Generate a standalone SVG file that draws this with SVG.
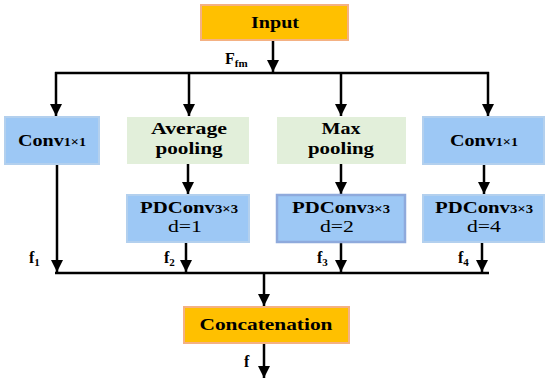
<svg xmlns="http://www.w3.org/2000/svg" width="550" height="386" viewBox="0 0 550 386">
<style>
.ln{stroke:#000;stroke-width:2.5;fill:none}
.ar{stroke:#000;stroke-width:2.5;fill:none;marker-end:url(#ah)}
.or{fill:#FFC000;stroke:#F4B183;stroke-width:2}
.bl{fill:#9DC8F5;stroke:#B3D0EE;stroke-width:2}
.bl2{fill:#9DC8F5;stroke:#8FAADC;stroke-width:2.5}
.gr{fill:#E2EFDA;stroke:none}
.t{font-weight:bold;font-size:17px;fill:#000;text-anchor:middle}
.s{font-size:12px}
.r{font-size:17px;fill:#000;text-anchor:middle}
.lb{font-weight:bold;font-size:16px;fill:#000}
.ls{font-size:11px}
</style>
<defs>
<marker id="ah" markerUnits="userSpaceOnUse" markerWidth="14" markerHeight="14" viewBox="0 0 14 14" refX="12" refY="7" orient="auto">
<path d="M0,1 L12,7 L0,13 Z" fill="#000"/>
</marker>
</defs>
<g font-family="Liberation Serif, DejaVu Serif, serif">
<g id="connectors">
<line class="ar" x1="273" y1="40" x2="273" y2="72"/>
<line class="ln" x1="55" y1="73" x2="489" y2="73"/>
<line class="ar" x1="56" y1="72" x2="56" y2="116"/>
<line class="ar" x1="189" y1="72" x2="189" y2="116"/>
<line class="ar" x1="341" y1="72" x2="341" y2="116"/>
<line class="ar" x1="488" y1="72" x2="488" y2="116"/>
<line class="ar" x1="188" y1="164" x2="188" y2="194"/>
<line class="ar" x1="341" y1="164" x2="341" y2="194"/>
<line class="ar" x1="484" y1="164" x2="484" y2="194"/>
<line class="ar" x1="57" y1="164" x2="57" y2="272"/>
<line class="ar" x1="186" y1="242" x2="186" y2="272"/>
<line class="ar" x1="341" y1="242" x2="341" y2="272"/>
<line class="ar" x1="482" y1="242" x2="482" y2="272"/>
<line class="ln" x1="55" y1="273" x2="489" y2="273"/>
<line class="ar" x1="264" y1="272" x2="264" y2="306"/>
<line class="ar" x1="264" y1="343" x2="264" y2="378"/>
<text class="lb" x="225" y="64">F<tspan class="ls" dy="3">fm</tspan></text>
<text class="lb" x="29" y="263">f<tspan class="ls" dy="3">1</tspan></text>
<text class="lb" x="164" y="263">f<tspan class="ls" dy="3">2</tspan></text>
<text class="lb" x="317" y="263">f<tspan class="ls" dy="3">3</tspan></text>
<text class="lb" x="458" y="263">f<tspan class="ls" dy="3">4</tspan></text>
<text class="lb" x="244" y="367">f</text>
</g>
<g id="input"><rect class="or" x="201" y="5" width="147" height="35"/><text class="t" x="275" y="28" textLength="48" lengthAdjust="spacingAndGlyphs">Input</text></g>
<g id="conv1"><rect class="bl" x="5" y="117" width="94" height="47"/><text class="t" x="52" y="146" textLength="68" lengthAdjust="spacingAndGlyphs">Conv<tspan class="s">1×1</tspan></text></g>
<g id="avgpool"><rect class="gr" x="127" y="117" width="122" height="47"/><text class="t" x="189" y="134" textLength="76" lengthAdjust="spacingAndGlyphs">Average</text><text class="t" x="189" y="154" textLength="67" lengthAdjust="spacingAndGlyphs">pooling</text></g>
<g id="maxpool"><rect class="gr" x="277" y="117" width="129" height="47"/><text class="t" x="341" y="134" textLength="39" lengthAdjust="spacingAndGlyphs">Max</text><text class="t" x="341" y="154" textLength="66" lengthAdjust="spacingAndGlyphs">pooling</text></g>
<g id="conv4"><rect class="bl" x="423" y="117" width="121" height="47"/><text class="t" x="484" y="146" textLength="68" lengthAdjust="spacingAndGlyphs">Conv<tspan class="s">1×1</tspan></text></g>
<g id="pdconv1"><rect class="bl" x="127" y="195" width="122" height="47"/><text class="t" x="189" y="213" textLength="98" lengthAdjust="spacingAndGlyphs">PDConv<tspan class="s">3×3</tspan></text><text class="r" x="185" y="232" textLength="34" lengthAdjust="spacingAndGlyphs">d=1</text></g>
<g id="pdconv2"><rect class="bl2" x="277" y="195" width="128" height="47"/><text class="t" x="341" y="213" textLength="98" lengthAdjust="spacingAndGlyphs">PDConv<tspan class="s">3×3</tspan></text><text class="r" x="337" y="232" textLength="34" lengthAdjust="spacingAndGlyphs">d=2</text></g>
<g id="pdconv4"><rect class="bl" x="423" y="195" width="121" height="47"/><text class="t" x="484" y="213" textLength="98" lengthAdjust="spacingAndGlyphs">PDConv<tspan class="s">3×3</tspan></text><text class="r" x="484" y="232" textLength="34" lengthAdjust="spacingAndGlyphs">d=4</text></g>
<g id="concat"><rect class="or" x="184" y="307" width="165" height="36"/><text class="t" x="266" y="330" textLength="133" lengthAdjust="spacingAndGlyphs">Concatenation</text></g>
</g>
</svg>
